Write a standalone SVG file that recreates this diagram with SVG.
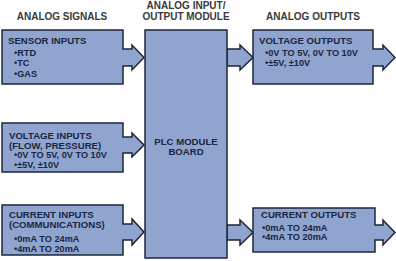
<svg xmlns="http://www.w3.org/2000/svg" width="396" height="261" viewBox="0 0 396 261">
<style>
.box{fill:#8fa5d0;stroke:#1e2638;stroke-width:1.5;stroke-linejoin:miter}
.hd{font-family:"Liberation Sans",Arial,sans-serif;font-weight:bold;font-size:10px;fill:#3a3a3a;text-anchor:middle}
.t{font-family:"Liberation Sans",Arial,sans-serif;font-weight:bold;font-size:9.6px;fill:#1c2540}
.b{font-family:"Liberation Sans",Arial,sans-serif;font-weight:bold;font-size:9.2px;fill:#1c2540}
</style>
<rect width="396" height="261" fill="#ffffff"/>
<g id="headers">
<text class="hd" x="62" y="19.5">ANALOG SIGNALS</text>
<text class="hd" x="186" y="9">ANALOG INPUT/</text>
<text class="hd" x="186" y="19.5">OUTPUT MODULE</text>
<text class="hd" x="313" y="19.5">ANALOG OUTPUTS</text>
</g>
<g id="connectors">
<path class="box" d="M227,49 H240 V45 L253,57.5 L240,70 V66 H227 Z"/>
<path class="box" d="M227,225 H240 V220 L253,232.5 L240,245 V240 H227 Z"/>
</g>
<g id="plc">
<rect class="box" x="145" y="30" width="82" height="228"/>
<text class="t" x="186" y="144.5" text-anchor="middle" font-size="10">PLC MODULE</text>
<text class="t" x="186" y="155" text-anchor="middle" font-size="10">BOARD</text>
</g>
<g id="sensor-inputs">
<path class="box" d="M2,30 H123 V49 H132 V45 L144,57.5 L132,70 V66 H123 V84 H2 Z"/>
<text class="t" x="8" y="44" font-size="10">SENSOR INPUTS</text>
<text class="b" x="14" y="56">•RTD</text>
<text class="b" x="14" y="66">•TC</text>
<text class="b" x="14" y="76.5">•GAS</text>
</g>
<g id="voltage-inputs">
<path class="box" d="M2,123 H123 V137 H132 V133 L144,145 L132,157 V153 H123 V172 H2 Z"/>
<text class="t" x="9" y="139">VOLTAGE INPUTS</text>
<text class="t" x="9" y="148.6">(FLOW, PRESSURE)</text>
<text class="b" x="14" y="158.2">•0V TO 5V, 0V TO 10V</text>
<text class="b" x="14" y="167.8">•±5V, ±10V</text>
</g>
<g id="current-inputs">
<path class="box" d="M2,205 H123 V224 H132 V219 L144,232 L132,245 V240 H123 V255 H2 Z"/>
<text class="t" x="9" y="218.3">CURRENT INPUTS</text>
<text class="t" x="9" y="228">(COMMUNICATIONS)</text>
<text class="b" x="14" y="242">•0mA TO 24mA</text>
<text class="b" x="14" y="251.6">•4mA TO 20mA</text>
</g>
<g id="voltage-outputs">
<path class="box" d="M253,30 H373 V49 H383 V45 L395,57.5 L383,70 V66 H373 V84 H253 Z"/>
<text class="t" x="259" y="44" font-size="10">VOLTAGE OUTPUTS</text>
<text class="b" x="265" y="56">•0V TO 5V, 0V TO 10V</text>
<text class="b" x="265" y="65.6">•±5V, ±10V</text>
</g>
<g id="current-outputs">
<path class="box" d="M253,208 H375 V225 H383 V220 L395,232.5 L383,245 V240 H375 V252 H253 Z"/>
<text class="t" x="261" y="218.3" font-size="10">CURRENT OUTPUTS</text>
<text class="b" x="262" y="230.5">•0mA TO 24mA</text>
<text class="b" x="262" y="240.1">•4mA TO 20mA</text>
</g>
</svg>
